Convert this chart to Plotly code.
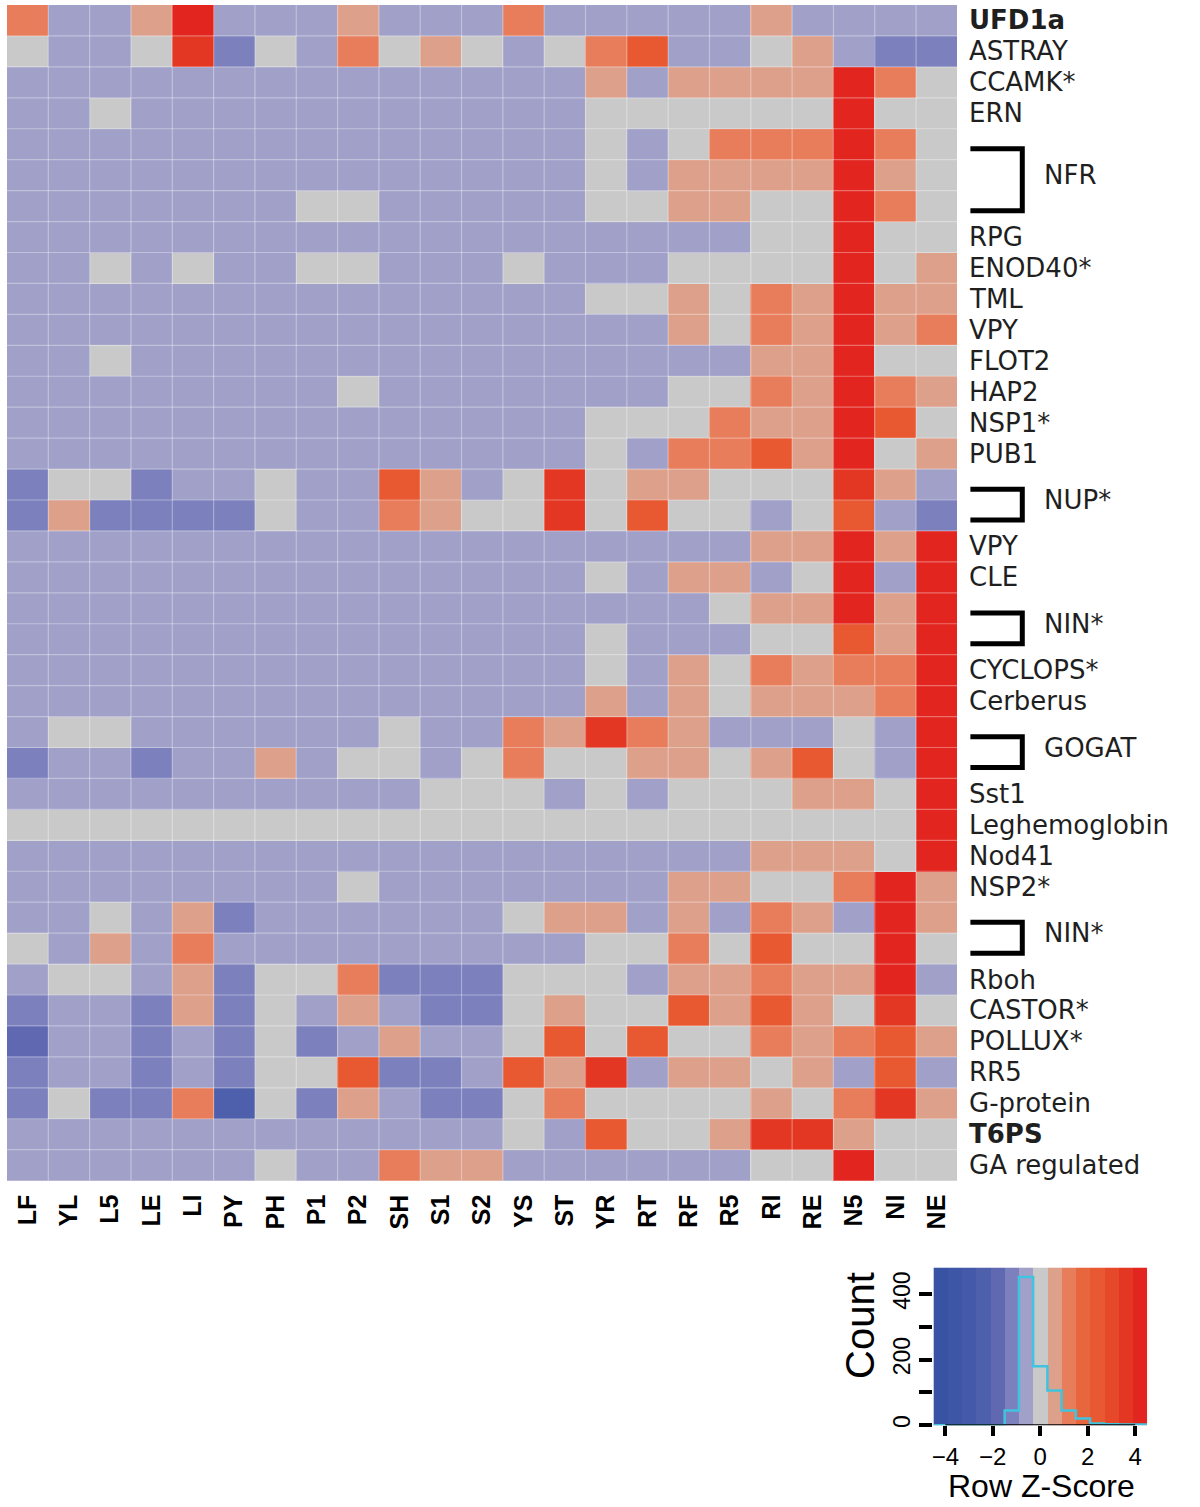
import plotly.graph_objects as go

# ---------------- data ----------------
samples = ["LF", "YL", "L5", "LE", "LI", "PY", "PH", "P1", "P2", "SH", "S1", "S2",
           "YS", "ST", "YR", "RT", "RF", "R5", "RI", "RE", "N5", "NI", "NE"]

row_genes = ["UFD1a", "ASTRAY", "CCAMK*", "ERN", "NFR", "NFR", "NFR", "RPG", "ENOD40*",
             "TML", "VPY", "FLOT2", "HAP2", "NSP1*", "PUB1", "NUP*", "NUP*", "VPY", "CLE",
             "NIN*", "NIN*", "CYCLOPS*", "Cerberus", "GOGAT", "GOGAT", "Sst1",
             "Leghemoglobin", "Nod41", "NSP2*", "NIN*", "NIN*", "Rboh", "CASTOR*",
             "POLLUX*", "RR5", "G-protein", "T6PS", "GA regulated"]

# row z-scores, rows top->bottom, columns as samples
zscores = [
    [1.2, -0.6, -0.6, 0.6, 4.2, -0.6, -0.6, -0.6, 0.6, -0.6, -0.6, -0.6, 1.2, -0.6, -0.6, -0.6, -0.6, -0.6, 0.6, -0.6, -0.6, -0.6, -0.6],
    [0.0, -0.6, -0.6, 0.0, 3.6, -1.2, 0.0, -0.6, 1.2, 0.0, 0.6, 0.0, -0.6, 0.0, 1.2, 2.4, -0.6, -0.6, 0.0, 0.6, -0.6, -1.2, -1.2],
    [-0.6, -0.6, -0.6, -0.6, -0.6, -0.6, -0.6, -0.6, -0.6, -0.6, -0.6, -0.6, -0.6, -0.6, 0.6, -0.6, 0.6, 0.6, 0.6, 0.6, 4.2, 1.2, 0.0],
    [-0.6, -0.6, 0.0, -0.6, -0.6, -0.6, -0.6, -0.6, -0.6, -0.6, -0.6, -0.6, -0.6, -0.6, 0.0, 0.0, 0.0, 0.0, 0.0, 0.0, 4.2, 0.0, 0.0],
    [-0.6, -0.6, -0.6, -0.6, -0.6, -0.6, -0.6, -0.6, -0.6, -0.6, -0.6, -0.6, -0.6, -0.6, 0.0, -0.6, 0.0, 1.2, 1.2, 1.2, 4.2, 1.2, 0.0],
    [-0.6, -0.6, -0.6, -0.6, -0.6, -0.6, -0.6, -0.6, -0.6, -0.6, -0.6, -0.6, -0.6, -0.6, 0.0, -0.6, 0.6, 0.6, 0.6, 0.6, 4.2, 0.6, 0.0],
    [-0.6, -0.6, -0.6, -0.6, -0.6, -0.6, -0.6, 0.0, 0.0, -0.6, -0.6, -0.6, -0.6, -0.6, 0.0, 0.0, 0.6, 0.6, 0.0, 0.0, 4.2, 1.2, 0.0],
    [-0.6, -0.6, -0.6, -0.6, -0.6, -0.6, -0.6, -0.6, -0.6, -0.6, -0.6, -0.6, -0.6, -0.6, -0.6, -0.6, -0.6, -0.6, 0.0, 0.0, 4.2, 0.0, 0.0],
    [-0.6, -0.6, 0.0, -0.6, 0.0, -0.6, -0.6, 0.0, 0.0, -0.6, -0.6, -0.6, 0.0, -0.6, -0.6, -0.6, 0.0, 0.0, 0.0, 0.0, 4.2, 0.0, 0.6],
    [-0.6, -0.6, -0.6, -0.6, -0.6, -0.6, -0.6, -0.6, -0.6, -0.6, -0.6, -0.6, -0.6, -0.6, 0.0, 0.0, 0.6, 0.0, 1.2, 0.6, 4.2, 0.6, 0.6],
    [-0.6, -0.6, -0.6, -0.6, -0.6, -0.6, -0.6, -0.6, -0.6, -0.6, -0.6, -0.6, -0.6, -0.6, -0.6, -0.6, 0.6, 0.0, 1.2, 0.6, 4.2, 0.6, 1.2],
    [-0.6, -0.6, 0.0, -0.6, -0.6, -0.6, -0.6, -0.6, -0.6, -0.6, -0.6, -0.6, -0.6, -0.6, -0.6, -0.6, -0.6, -0.6, 0.6, 0.6, 4.2, 0.0, 0.0],
    [-0.6, -0.6, -0.6, -0.6, -0.6, -0.6, -0.6, -0.6, 0.0, -0.6, -0.6, -0.6, -0.6, -0.6, -0.6, -0.6, 0.0, 0.0, 1.2, 0.6, 4.2, 1.2, 0.6],
    [-0.6, -0.6, -0.6, -0.6, -0.6, -0.6, -0.6, -0.6, -0.6, -0.6, -0.6, -0.6, -0.6, -0.6, 0.0, 0.0, 0.0, 1.2, 0.6, 0.6, 4.2, 2.4, 0.0],
    [-0.6, -0.6, -0.6, -0.6, -0.6, -0.6, -0.6, -0.6, -0.6, -0.6, -0.6, -0.6, -0.6, -0.6, 0.0, -0.6, 1.2, 1.2, 2.4, 0.6, 4.2, 0.0, 0.6],
    [-1.2, 0.0, 0.0, -1.2, -0.6, -0.6, 0.0, -0.6, -0.6, 2.4, 0.6, -0.6, 0.0, 3.6, 0.0, 0.6, 0.6, 0.0, 0.0, 0.0, 3.6, 0.6, -0.6],
    [-1.2, 0.6, -1.2, -1.2, -1.2, -1.2, 0.0, -0.6, -0.6, 1.2, 0.6, 0.0, 0.0, 3.6, 0.0, 2.4, 0.0, 0.0, -0.6, 0.0, 2.4, -0.6, -1.2],
    [-0.6, -0.6, -0.6, -0.6, -0.6, -0.6, -0.6, -0.6, -0.6, -0.6, -0.6, -0.6, -0.6, -0.6, -0.6, -0.6, -0.6, -0.6, 0.6, 0.6, 4.2, 0.6, 4.2],
    [-0.6, -0.6, -0.6, -0.6, -0.6, -0.6, -0.6, -0.6, -0.6, -0.6, -0.6, -0.6, -0.6, -0.6, 0.0, -0.6, 0.6, 0.6, -0.6, 0.0, 4.2, -0.6, 4.2],
    [-0.6, -0.6, -0.6, -0.6, -0.6, -0.6, -0.6, -0.6, -0.6, -0.6, -0.6, -0.6, -0.6, -0.6, -0.6, -0.6, -0.6, 0.0, 0.6, 0.6, 4.2, 0.6, 4.2],
    [-0.6, -0.6, -0.6, -0.6, -0.6, -0.6, -0.6, -0.6, -0.6, -0.6, -0.6, -0.6, -0.6, -0.6, 0.0, -0.6, -0.6, -0.6, 0.0, 0.0, 2.4, 0.6, 4.2],
    [-0.6, -0.6, -0.6, -0.6, -0.6, -0.6, -0.6, -0.6, -0.6, -0.6, -0.6, -0.6, -0.6, -0.6, 0.0, -0.6, 0.6, 0.0, 1.2, 0.6, 1.2, 1.2, 4.2],
    [-0.6, -0.6, -0.6, -0.6, -0.6, -0.6, -0.6, -0.6, -0.6, -0.6, -0.6, -0.6, -0.6, -0.6, 0.6, -0.6, 0.6, 0.0, 0.6, 0.6, 0.6, 1.2, 4.2],
    [-0.6, 0.0, 0.0, -0.6, -0.6, -0.6, -0.6, -0.6, -0.6, 0.0, -0.6, -0.6, 1.2, 0.6, 3.6, 1.2, 0.6, -0.6, -0.6, -0.6, 0.0, -0.6, 4.2],
    [-1.2, -0.6, -0.6, -1.2, -0.6, -0.6, 0.6, -0.6, 0.0, 0.0, -0.6, 0.0, 1.2, 0.0, 0.0, 0.6, 0.6, 0.0, 0.6, 2.4, 0.0, -0.6, 4.2],
    [-0.6, -0.6, -0.6, -0.6, -0.6, -0.6, -0.6, -0.6, -0.6, -0.6, 0.0, 0.0, 0.0, -0.6, 0.0, -0.6, 0.0, 0.0, 0.0, 0.6, 0.6, 0.0, 4.2],
    [0.0, 0.0, 0.0, 0.0, 0.0, 0.0, 0.0, 0.0, 0.0, 0.0, 0.0, 0.0, 0.0, 0.0, 0.0, 0.0, 0.0, 0.0, 0.0, 0.0, 0.0, 0.0, 4.2],
    [-0.6, -0.6, -0.6, -0.6, -0.6, -0.6, -0.6, -0.6, -0.6, -0.6, -0.6, -0.6, -0.6, -0.6, -0.6, -0.6, -0.6, -0.6, 0.6, 0.6, 0.6, 0.0, 4.2],
    [-0.6, -0.6, -0.6, -0.6, -0.6, -0.6, -0.6, -0.6, 0.0, -0.6, -0.6, -0.6, -0.6, -0.6, -0.6, -0.6, 0.6, 0.6, 0.0, 0.0, 1.2, 4.2, 0.6],
    [-0.6, -0.6, 0.0, -0.6, 0.6, -1.2, -0.6, -0.6, -0.6, -0.6, -0.6, -0.6, 0.0, 0.6, 0.6, -0.6, 0.6, -0.6, 1.2, 0.6, -0.6, 4.2, 0.6],
    [0.0, -0.6, 0.6, -0.6, 1.2, -0.6, -0.6, -0.6, -0.6, -0.6, -0.6, -0.6, -0.6, -0.6, 0.0, 0.0, 1.2, 0.0, 2.4, 0.0, 0.0, 4.2, 0.0],
    [-0.6, 0.0, 0.0, -0.6, 0.6, -1.2, 0.0, 0.0, 1.2, -1.2, -1.2, -1.2, 0.0, 0.0, 0.0, -0.6, 0.6, 0.6, 1.2, 0.6, 0.6, 4.2, -0.6],
    [-1.2, -0.6, -0.6, -1.2, 0.6, -1.2, 0.0, -0.6, 0.6, -0.6, -1.2, -1.2, 0.0, 0.6, 0.0, 0.0, 2.4, 0.6, 2.4, 0.6, 0.0, 3.6, 0.0],
    [-1.8, -0.6, -0.6, -1.2, -0.6, -1.2, 0.0, -1.2, -0.6, 0.6, -0.6, -0.6, 0.0, 2.4, 0.0, 2.4, 0.0, 0.0, 1.2, 0.6, 1.2, 2.4, 0.6],
    [-1.2, -0.6, -0.6, -1.2, -0.6, -1.2, 0.0, 0.0, 2.4, -1.2, -1.2, -0.6, 2.4, 0.6, 3.6, -0.6, 0.6, 0.6, 0.0, 0.6, -0.6, 2.4, -0.6],
    [-1.2, 0.0, -1.2, -1.2, 1.2, -2.4, 0.0, -1.2, 0.6, -0.6, -1.2, -1.2, 0.0, 1.2, 0.0, 0.0, 0.0, 0.0, 0.6, 0.0, 1.2, 3.6, 0.6],
    [-0.6, -0.6, -0.6, -0.6, -0.6, -0.6, -0.6, -0.6, -0.6, -0.6, -0.6, -0.6, 0.0, -0.6, 2.4, 0.0, 0.0, 0.6, 3.6, 3.6, 0.6, 0.0, 0.0],
    [-0.6, -0.6, -0.6, -0.6, -0.6, -0.6, 0.0, -0.6, -0.6, 1.2, 0.6, 0.6, -0.6, -0.6, -0.6, -0.6, -0.6, -0.6, 0.0, 0.0, 4.2, 0.0, 0.0],
]

# colour key breaks, bin colours and histogram counts read from the key
key_breaks = [-4.5, -3.9, -3.3, -2.7, -2.1, -1.5, -0.9, -0.3, 0.3, 0.9, 1.5, 2.1, 2.7, 3.3, 3.9, 4.5]
key_colors = ["#3953a4", "#3d56a5", "#4459a7", "#4e5fab", "#6068b2", "#7c80bd", "#a0a0c9",
              "#c9c9c9", "#dda08b", "#e87d5b", "#e8663e", "#e85831", "#e5492a", "#e33724", "#e2251f"]
hist_counts = [0, 0, 0, 0, 0, 45, 452, 180, 106, 45, 20, 5, 3, 2, 2]
key_xticks = [-4, -2, 0, 2, 4]
key_yticks = [0, 100, 200, 300, 400]
key_yticklabels = ["0", "", "200", "", "400"]
bold_labels = {"UFD1a", "T6PS"}

# ---------------- figure ----------------
W, H = 1200, 1507
zmin, zmax = key_breaks[0], key_breaks[-1]
nb = len(key_colors)
colorscale = []
for i, c in enumerate(key_colors):
    colorscale.append([i / nb, c])
    colorscale.append([(i + 1) / nb, c])

nrows, ncols = len(row_genes), len(samples)

fig = go.Figure()
fig.add_trace(go.Heatmap(
    z=zscores, x=list(range(ncols)), y=list(range(nrows)),
    zmin=zmin, zmax=zmax, colorscale=colorscale, showscale=False,
    xaxis="x", yaxis="y", hoverinfo="skip"))

centers = [(key_breaks[i] + key_breaks[i + 1]) / 2 for i in range(nb)]
key_top = 481
fig.add_trace(go.Heatmap(
    z=[centers], x=key_breaks, y=[0, key_top],
    zmin=zmin, zmax=zmax, colorscale=colorscale, showscale=False,
    xaxis="x2", yaxis="y2", hoverinfo="skip"))

fig.add_trace(go.Scatter(
    x=key_breaks, y=hist_counts + [hist_counts[-1]], mode="lines",
    line=dict(color="#3fc3df", width=2.5, shape="hv"),
    xaxis="x2", yaxis="y2", hoverinfo="skip", showlegend=False))

shapes = []
# faint cell separators
for k in range(1, ncols):
    shapes.append(dict(type="line", xref="x", yref="y", x0=k - 0.5, x1=k - 0.5,
                       y0=-0.5, y1=nrows - 0.5,
                       line=dict(color="rgba(255,255,255,0.35)", width=1.2)))
for k in range(1, nrows):
    shapes.append(dict(type="line", xref="x", yref="y", x0=-0.5, x1=ncols - 0.5,
                       y0=k - 0.5, y1=k - 0.5,
                       line=dict(color="rgba(255,255,255,0.35)", width=1.2)))

# key axis line
shapes.append(dict(type="line", xref="x2", yref="y2", x0=key_xticks[0], x1=key_xticks[-1],
                   y0=0, y1=0, line=dict(color="black", width=2)))

annotations = []
label_font = dict(family="DejaVu Sans", size=26, color="#1f1f1f")
xl = 967 / W
bx0, bx1 = 970 / W, 1022 / W
glx = 1042 / W

# group consecutive identical gene names
groups = []
start = 0
for i in range(1, nrows + 1):
    if i == nrows or row_genes[i] != row_genes[start]:
        groups.append((row_genes[start], start, i - 1))
        start = i

for name, a, b in groups:
    f = dict(label_font)
    if name in bold_labels:
        f["weight"] = "bold"
    if a == b:
        annotations.append(dict(text=name, x=xl, xref="paper", y=a, yref="y",
                                xanchor="left", yanchor="middle", showarrow=False, font=f))
    else:
        yt, yb = a + 0.15, b + 0.15
        shapes.append(dict(type="path", xref="paper", yref="y",
                           path=f"M {bx0},{yt} L {bx1},{yt} L {bx1},{yb} L {bx0},{yb}",
                           line=dict(color="black", width=5)))
        annotations.append(dict(text=name, x=glx, xref="paper", y=(a + b) / 2, yref="y",
                                xanchor="left", yanchor="middle", showarrow=False, font=f))

annotations.append(dict(text="Count", x=860 / W, y=1 - 1328 / H, xref="paper", yref="paper",
                        xanchor="center", yanchor="middle", textangle=-90, showarrow=False,
                        font=dict(family="Liberation Sans", size=40, color="black")))
annotations.append(dict(text="Row Z-Score", x=1041 / W, y=1 - 1488.5 / H, xref="paper", yref="paper",
                        xanchor="center", yanchor="middle", showarrow=False,
                        font=dict(family="Liberation Sans", size=32, color="black")))

fig.update_layout(
    width=W, height=H, margin=dict(l=0, r=0, t=0, b=0),
    paper_bgcolor="white", plot_bgcolor="white", showlegend=False,
    xaxis=dict(domain=[5 / W, 957 / W], range=[-0.5, ncols - 0.5], anchor="y",
               tickvals=list(range(ncols)), ticktext=samples, tickangle=-90,
               tickfont=dict(family="Liberation Sans", size=25, color="black", weight="bold"),
               ticks="", ticklabelstandoff=8, showgrid=False, zeroline=False, showline=False),
    yaxis=dict(domain=[1 - 1183 / H, 1 - 5 / H], range=[nrows - 0.5, -0.5], anchor="x",
               showticklabels=False, ticks="", showgrid=False, zeroline=False, showline=False),
    xaxis2=dict(domain=[933 / W, 1147 / W], range=[zmin, zmax], anchor="y2",
                tickvals=key_xticks, ticks="outside", ticklen=10, tickwidth=4, tickcolor="black",
                tickfont=dict(family="Liberation Sans", size=24, color="black"),
                showgrid=False, zeroline=False, showline=False),
    yaxis2=dict(domain=[1 - 1428 / H, 1 - 1270 / H], range=[0, key_top], anchor="x2",
                tickvals=key_yticks, ticktext=key_yticklabels, tickangle=-90,
                ticks="outside", ticklen=13, tickwidth=4, tickcolor="black",
                tickfont=dict(family="Liberation Sans", size=23, color="black"),
                showgrid=False, zeroline=False, showline=False),
    shapes=shapes, annotations=annotations,
)

fig.write_html("out.html", config={"displayModeBar": False},
               post_script="document.body.style.margin='0';")
